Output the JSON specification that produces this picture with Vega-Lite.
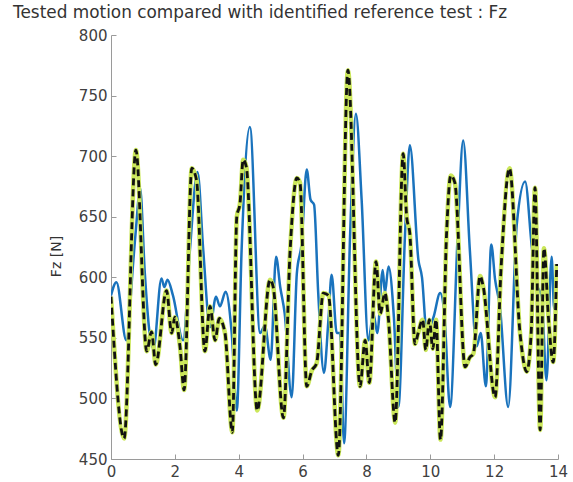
{
  "$schema": "https://vega.github.io/schema/vega-lite/v6.json",
  "width": 447,
  "height": 424,
  "autosize": {"type": "none"},
  "padding": {"left": 111, "top": 35, "right": 15, "bottom": 23},
  "background": "white",
  "title": {
    "text": "Tested motion compared with identified reference test : Fz",
    "anchor": "start",
    "frame": "group",
    "dx": -98,
    "offset": 6,
    "font": "DejaVu Sans",
    "fontSize": 16.9,
    "fontWeight": "normal",
    "color": "#333333"
  },
  "config": {
    "view": {"stroke": null},
    "axis": {
      "grid": false,
      "domainColor": "#9a9a9a",
      "tickColor": "#9a9a9a",
      "tickSize": -5,
      "labelFont": "DejaVu Sans",
      "labelFontSize": 15,
      "labelColor": "#404040",
      "titleFont": "DejaVu Sans",
      "titleFontSize": 14,
      "titleFontWeight": "normal",
      "titleColor": "#333333"
    }
  },
  "datasets": {
    "ref": [
      {"x":0,"y":584},{"x":0.41,"y":467},{"x":0.78,"y":705},{"x":1.12,"y":539},{"x":1.27,"y":555},{"x":1.40,"y":528},{"x":1.74,"y":589},{"x":1.90,"y":554},{"x":2.0,"y":567},{"x":2.16,"y":543},{"x":2.29,"y":507},{"x":2.53,"y":690},{"x":2.68,"y":680},{"x":2.94,"y":539},{"x":3.10,"y":576},{"x":3.26,"y":548},{"x":3.39,"y":566},{"x":3.57,"y":554},{"x":3.80,"y":472},{"x":3.94,"y":650},{"x":4.04,"y":661},{"x":4.14,"y":697},{"x":4.24,"y":691},{"x":4.58,"y":490},{"x":4.98,"y":598},{"x":5.08,"y":592},{"x":5.40,"y":484},{"x":5.61,"y":622},{"x":5.82,"y":682},{"x":5.92,"y":678},{"x":6.13,"y":510},{"x":6.29,"y":523},{"x":6.44,"y":529},{"x":6.65,"y":587},{"x":6.81,"y":585},{"x":7.12,"y":453},{"x":7.42,"y":771},{"x":7.80,"y":510},{"x":7.96,"y":548},{"x":8.09,"y":513},{"x":8.30,"y":613},{"x":8.43,"y":570},{"x":8.58,"y":587},{"x":8.69,"y":565},{"x":8.90,"y":480},{"x":9.15,"y":702},{"x":9.26,"y":650},{"x":9.36,"y":636},{"x":9.52,"y":545},{"x":9.62,"y":554},{"x":9.76,"y":565},{"x":9.86,"y":540},{"x":9.97,"y":565},{"x":10.08,"y":541},{"x":10.18,"y":565},{"x":10.32,"y":466},{"x":10.51,"y":636},{"x":10.64,"y":684},{"x":10.77,"y":678},{"x":11.09,"y":526},{"x":11.24,"y":534},{"x":11.35,"y":537},{"x":11.56,"y":601},{"x":11.66,"y":592},{"x":12.03,"y":501},{"x":12.22,"y":609},{"x":12.48,"y":690},{"x":12.81,"y":554},{"x":13.02,"y":522},{"x":13.16,"y":554},{"x":13.28,"y":674},{"x":13.44,"y":474},{"x":13.56,"y":624},{"x":13.70,"y":567},{"x":13.85,"y":530},{"x":13.96,"y":611}
    ],
    "test": [
      {"x":0,"y":585},{"x":0.17,"y":596},{"x":0.48,"y":548},{"x":0.70,"y":614},{"x":0.80,"y":646},{"x":0.91,"y":674},{"x":1.06,"y":603},{"x":1.20,"y":556},{"x":1.33,"y":541},{"x":1.58,"y":599},{"x":1.67,"y":592},{"x":1.77,"y":598},{"x":1.94,"y":585},{"x":2.26,"y":548},{"x":2.47,"y":622},{"x":2.71,"y":687},{"x":2.89,"y":622},{"x":3.10,"y":559},{"x":3.29,"y":584},{"x":3.41,"y":576},{"x":3.59,"y":588},{"x":3.78,"y":554},{"x":3.94,"y":490},{"x":4.09,"y":622},{"x":4.35,"y":724},{"x":4.67,"y":554},{"x":4.82,"y":560},{"x":5.00,"y":532},{"x":5.17,"y":617},{"x":5.30,"y":592},{"x":5.44,"y":570},{"x":5.66,"y":501},{"x":5.82,"y":603},{"x":5.97,"y":628},{"x":6.13,"y":689},{"x":6.25,"y":664},{"x":6.36,"y":660},{"x":6.49,"y":587},{"x":6.67,"y":521},{"x":6.81,"y":565},{"x":6.91,"y":602},{"x":7.07,"y":554},{"x":7.17,"y":554},{"x":7.30,"y":463},{"x":7.49,"y":636},{"x":7.67,"y":735},{"x":7.85,"y":664},{"x":8.06,"y":548},{"x":8.22,"y":570},{"x":8.34,"y":554},{"x":8.51,"y":606},{"x":8.58,"y":587},{"x":8.69,"y":609},{"x":8.86,"y":567},{"x":9.00,"y":493},{"x":9.21,"y":636},{"x":9.36,"y":709},{"x":9.63,"y":614},{"x":9.74,"y":600},{"x":9.89,"y":554},{"x":10.1,"y":567},{"x":10.31,"y":587},{"x":10.44,"y":570},{"x":10.62,"y":493},{"x":10.86,"y":636},{"x":11.03,"y":713},{"x":11.24,"y":622},{"x":11.45,"y":543},{"x":11.58,"y":554},{"x":11.74,"y":510},{"x":11.91,"y":627},{"x":12.03,"y":598},{"x":12.18,"y":576},{"x":12.44,"y":493},{"x":12.71,"y":644},{"x":12.97,"y":679},{"x":13.18,"y":625},{"x":13.33,"y":595},{"x":13.49,"y":584},{"x":13.64,"y":515},{"x":13.80,"y":617},{"x":13.88,"y":574},{"x":13.96,"y":609}
    ]
  },
  "encoding": {
    "x": {
      "field": "x", "type": "quantitative",
      "scale": {"domain": [0, 14], "nice": false, "zero": false},
      "axis": {"values": [0,2,4,6,8,10,12,14], "title": null, "labelPadding": 10, "labelFlush": false}
    },
    "y": {
      "field": "y", "type": "quantitative",
      "scale": {"domain": [450, 800], "nice": false, "zero": false},
      "axis": {"values": [450,500,550,600,650,700,750,800], "title": "Fz [N]", "labelPadding": 9, "titleX": -48, "titleY": 221, "labelFlush": false}
    }
  },
  "layer": [
    {
      "data": {"name": "test"},
      "mark": {"type": "line", "color": "#1a73bd", "strokeWidth": 2.5, "interpolate": "monotone", "clip": true}
    },
    {
      "data": {"name": "ref"},
      "mark": {"type": "line", "color": "#cbe75a", "strokeWidth": 4.5, "interpolate": "monotone", "clip": true}
    },
    {
      "data": {"name": "ref"},
      "mark": {"type": "line", "color": "#111111", "strokeWidth": 2.8, "strokeDash": [7, 4], "interpolate": "monotone", "clip": true}
    }
  ]
}
